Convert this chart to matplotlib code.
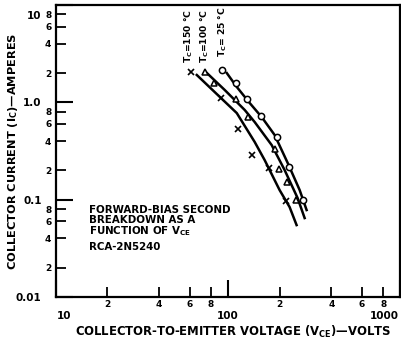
import matplotlib
matplotlib.use("Agg")
import matplotlib.pyplot as plt
from matplotlib.transforms import ScaledTranslation

plt.rcParams['font.family'] = ['DejaVu Sans']
plt.rcParams['font.weight'] = 'bold'
plt.rcParams['axes.labelweight'] = 'bold'
plt.rcParams['mathtext.fontset'] = 'custom'
plt.rcParams['mathtext.rm'] = 'DejaVu Sans:bold'
plt.rcParams['mathtext.it'] = 'DejaVu Sans:bold'
plt.rcParams['mathtext.default'] = 'rm'

# measured points (volts, amperes)
v150 = [61, 91, 114, 138, 173, 217]
i150 = [2.05, 1.1, 0.53, 0.29, 0.21, 0.097]
v100 = [73.6, 83, 111, 131, 187, 198, 220, 248]
i100 = [2.05, 1.58, 1.08, 0.71, 0.33, 0.206, 0.152, 0.099]
v25 = [92.3, 111, 129, 157, 192, 226, 272]
i25 = [2.15, 1.58, 1.08, 0.72, 0.44, 0.216, 0.099]

# drawn curves
cv150 = [66.1, 87.5, 112.8, 143.4, 163.8, 200, 228.6, 251]
ci150 = [1.91, 1.19, 0.776, 0.391, 0.255, 0.1255, 0.084, 0.0548]
cv100 = [74.6, 96, 125.5, 143.4, 179.9, 213.9, 254.5, 279.5]
ci100 = [2.05, 1.34, 0.834, 0.627, 0.364, 0.2015, 0.1038, 0.0647]
cv25 = [98.7, 112.8, 134.1, 157.4, 187.3, 222.9, 261.5, 287]
ci25 = [2.0, 1.44, 0.984, 0.706, 0.461, 0.238, 0.1255, 0.0782]

x_major = [10, 100, 1000]
x_major_labels = ['10', '100', '1000']
x_minor = [20, 40, 60, 80, 200, 400, 600, 800]
x_minor_labels = ['2', '4', '6', '8', '2', '4', '6', '8']
y_major = [0.01, 0.1, 1.0, 10]
y_major_labels = ['0.01', '0.1', '1.0', '10']
y_minor = [0.02, 0.04, 0.06, 0.08, 0.2, 0.4, 0.6, 0.8, 2, 4, 6, 8]
y_minor_labels = ['2', '4', '6', '8'] * 3

fig = plt.figure(figsize=(4.01, 3.41), dpi=100)
ax = fig.add_axes([55.5 / 401, 44 / 341, 344.5 / 401, 292 / 341])
ax.set_xscale('log')
ax.set_yscale('log')
ax.set_xlim(10, 1000)
ax.set_ylim(0.01, 10)

for s in ax.spines.values():
    s.set_linewidth(1.6)

lw = 1.8
ax.plot(cv150, ci150, color='black', lw=lw)
ax.plot(cv100, ci100, color='black', lw=lw)
ax.plot(cv25, ci25, color='black', lw=lw)
ax.plot(v150, i150, 'x', color='black', ms=4.5, mew=1.2)
ax.plot(v100, i100, '^', mfc='white', mec='black', ms=4.5, mew=1.1)
ax.plot(v25, i25, 'o', mfc='white', mec='black', ms=4.5, mew=1.1)

ax.set_xticks(x_major, x_major_labels)
ax.set_xticks(x_minor, x_minor_labels, minor=True)
ax.set_yticks(y_major, y_major_labels)
ax.set_yticks(y_minor, y_minor_labels, minor=True)
ax.tick_params(which='major', direction='in', length=12, width=1.5, labelsize=7.5)
ax.tick_params(which='minor', direction='in', length=7, width=1.3, labelsize=6.5)
ax.tick_params(axis='x', which='major', pad=10)
ax.tick_params(axis='x', which='minor', pad=2)
ax.tick_params(axis='y', which='major', pad=10)
ax.tick_params(axis='y', which='minor', pad=3)

# nudge end labels so they stay inside the figure
xl = ax.get_xticklabels()
xl[0].set_transform(xl[0].get_transform() + ScaledTranslation(6 / 72, 0, fig.dpi_scale_trans))
xl[-1].set_transform(xl[-1].get_transform() + ScaledTranslation(-11 / 72, 0, fig.dpi_scale_trans))
yl = ax.get_yticklabels()
yl[-1].set_transform(yl[-1].get_transform() + ScaledTranslation(0, -7 / 72, fig.dpi_scale_trans))

ax.set_xlabel(r'COLLECTOR-TO-EMITTER VOLTAGE ($\mathrm{V_{CE}}$)—VOLTS', fontsize=8.4, fontweight='bold')
ax.xaxis.set_label_coords(0.517, -0.12)
ax.xaxis.label.set_va('center')
ax.set_ylabel(r'COLLECTOR CURRENT ($\mathrm{I_C}$)—AMPERES', fontsize=8.2, fontweight='bold')
ax.yaxis.set_label_coords(-43 / 344.5, 0.5)
ax.yaxis.label.set_va('center')

ax.text(59.4, 2.53, r'$\mathrm{T_C}$=150 °C', rotation=90, ha='center', va='bottom', fontsize=6.6)
ax.text(73.6, 2.53, r'$\mathrm{T_C}$=100 °C', rotation=90, ha='center', va='bottom', fontsize=6.6)
ax.text(93.4, 2.92, r'$\mathrm{T_C}$= 25 °C', rotation=90, ha='center', va='bottom', fontsize=6.6)

ax.text(0.098, 0.315, 'FORWARD-BIAS SECOND\nBREAKDOWN AS A\n' + r'FUNCTION OF $\mathrm{V_{CE}}$',
        transform=ax.transAxes, fontsize=7.4, va='top', ha='left', linespacing=0.95)
ax.text(0.098, 0.19, 'RCA-2N5240', transform=ax.transAxes, fontsize=7.4, va='top', ha='left')

fig.savefig('out.png', dpi=100)
